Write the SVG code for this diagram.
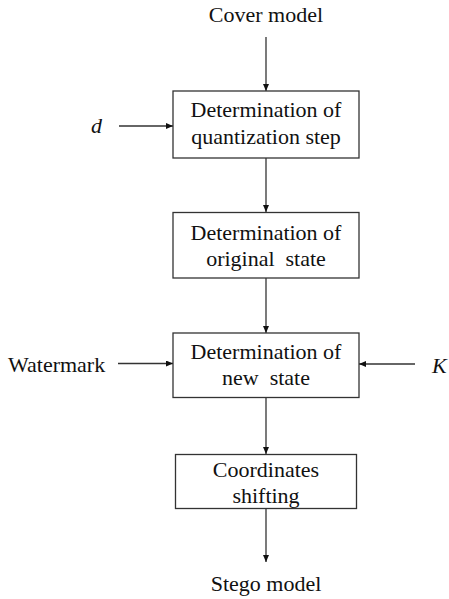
<svg xmlns="http://www.w3.org/2000/svg" width="449" height="599" viewBox="0 0 449 599">
  <style>
    text { font-family: "Liberation Serif", "Times New Roman", serif; font-size: 22px; fill: #111; }
    .c { text-anchor: middle; }
    .i { font-style: italic; }
    .box { fill: #fff; stroke: #333; stroke-width: 1.3; }
    .edge { stroke: #333; stroke-width: 1.3; fill: none; marker-end: url(#arrow); }
  </style>
  <defs>
    <marker id="arrow" markerUnits="userSpaceOnUse" markerWidth="8" markerHeight="8" refX="7" refY="3" orient="auto">
      <path d="M0,0 L7,3 L0,6 Z" fill="#111"/>
    </marker>
  </defs>
  <rect width="449" height="599" fill="#fff"/>

  <g id="connectors">
    <line class="edge" x1="266" y1="37" x2="266" y2="91"/>
    <line class="edge" x1="119" y1="126" x2="173" y2="126"/>
    <line class="edge" x1="266" y1="158" x2="266" y2="212"/>
    <line class="edge" x1="266" y1="278" x2="266" y2="333"/>
    <line class="edge" x1="118" y1="363.5" x2="173" y2="363.5"/>
    <line class="edge" x1="415" y1="364" x2="359" y2="364"/>
    <line class="edge" x1="266" y1="397" x2="266" y2="454"/>
    <line class="edge" x1="266" y1="508" x2="266" y2="562"/>
  </g>

  <g id="cover-model">
    <text class="c" x="266" y="22">Cover model</text>
  </g>
  <g id="input-d">
    <text class="i" x="91" y="133">d</text>
  </g>
  <g id="quantization-step">
    <rect class="box" x="173" y="91" width="186" height="67"/>
    <text class="c" x="266" y="117">Determination of</text>
    <text class="c" x="266" y="143.5">quantization step</text>
  </g>
  <g id="original-state">
    <rect class="box" x="173" y="212.5" width="186" height="65.5"/>
    <text class="c" x="266" y="239.5">Determination of</text>
    <text class="c" x="266" y="266" xml:space="preserve">original  state</text>
  </g>
  <g id="watermark">
    <text x="8" y="372">Watermark</text>
  </g>
  <g id="new-state">
    <rect class="box" x="173" y="333" width="186" height="64.5"/>
    <text class="c" x="266" y="358.5">Determination of</text>
    <text class="c" x="266" y="385" xml:space="preserve">new  state</text>
  </g>
  <g id="input-k">
    <text class="i" x="432" y="372.5">K</text>
  </g>
  <g id="coordinates-shifting">
    <rect class="box" x="175.5" y="454.5" width="181" height="54"/>
    <text class="c" x="266" y="477">Coordinates</text>
    <text class="c" x="266" y="502.5">shifting</text>
  </g>
  <g id="stego-model">
    <text class="c" x="266" y="590.5">Stego model</text>
  </g>
</svg>
